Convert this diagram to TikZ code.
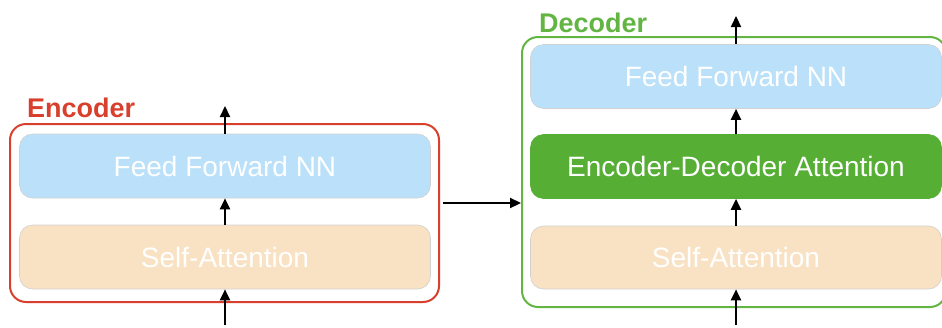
\documentclass[tikz,border=0pt]{standalone}
\usepackage{fontspec}
\setmainfont{Liberation Sans}
\usetikzlibrary{arrows.meta}
\definecolor{ffblue}{HTML}{BAE1F9}
\definecolor{sapeach}{HTML}{F9E2C3}
\definecolor{edagreen}{HTML}{56AE35}
\definecolor{encred}{HTML}{D8402D}
\definecolor{decgreen}{HTML}{62B443}
\tikzset{
  frame/.style={draw, line width=2pt, rounded corners=16pt, minimum width=#1, inner sep=0pt},
  layerbox/.style={rounded corners=13pt, inner sep=0pt, minimum width=411pt, minimum height=64pt, text=white, font=\fontsize{28}{30}\selectfont, draw=black!18, line width=0.6pt},
  arr/.style={line width=2.2pt, -{Triangle[length=11pt,width=10pt]}},
  title/.style={anchor=base west, font=\bfseries\fontsize{27}{30}\selectfont, inner sep=0pt}
}
\begin{document}
\begin{tikzpicture}[x=1pt,y=-1pt]
\useasboundingbox (0,0) rectangle (942,327);
% Encoder
\node[frame=429pt, minimum height=178pt, draw=encred] (encf) at (224.5,213) {};
\node[title, text=encred] (enct) at (27,117) {Encoder};
\node[layerbox, fill=ffblue] (eff) at (225,166) {Feed Forward NN};
\node[layerbox, fill=sapeach] (esa) at (225,257) {Self-Attention};
\coordinate (ein) at (225,325);
\coordinate (eout) at (225,106);
\draw[arr] (ein) -- (esa.south);
\draw[arr] (esa.north) -- (eff.south);
\draw[arr] (eff.north) -- (eout);
% Decoder
\node[frame=424pt, minimum height=270pt, draw=decgreen] (decf) at (734,172) {};
\node[title, text=decgreen] (dect) at (539,32) {Decoder};
\node[layerbox, fill=ffblue] (dff) at (736,76.5) {Feed Forward NN};
\node[layerbox, fill=edagreen, draw=edagreen] (deda) at (736,166.5) {Encoder-Decoder Attention};
\node[layerbox, fill=sapeach, minimum height=63pt] (dsa) at (736,257.5) {Self-Attention};
\coordinate (din) at (736,325);
\coordinate (dout) at (736,16);
\draw[arr] (din) -- (dsa.south);
\draw[arr] (dsa.north) -- (deda.south);
\draw[arr] (deda.north) -- (dff.south);
\draw[arr] (dff.north) -- (dout);
% Encoder to decoder
\coordinate (h1) at (443,203);
\coordinate (h2) at (521,203);
\draw[arr] (h1) -- (h2);
\end{tikzpicture}
\end{document}
